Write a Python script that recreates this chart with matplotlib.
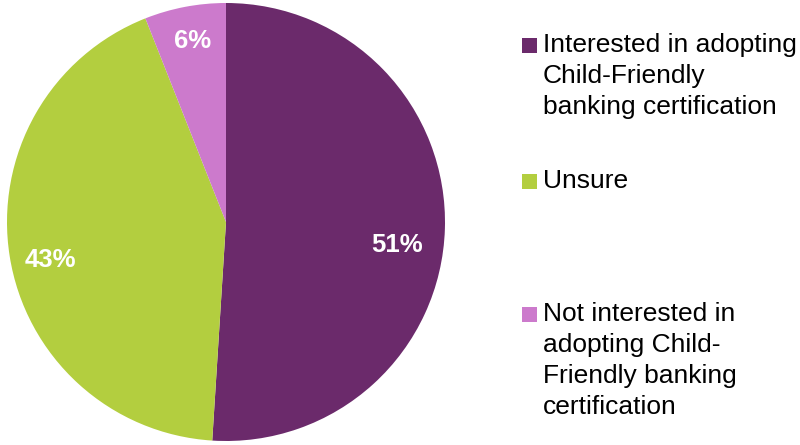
import matplotlib
matplotlib.use("Agg")
import matplotlib.pyplot as plt
from matplotlib.patches import Rectangle

plt.rcParams['font.family'] = ['Liberation Sans', 'DejaVu Sans']

categories = [
    "Interested in adopting\nChild-Friendly\nbanking certification",
    "Unsure",
    "Not interested in\nadopting Child-\nFriendly banking\ncertification",
]
values = [51, 43, 6]
colors = ["#6B2A6B", "#B3CE3F", "#CC7ACC"]

fig = plt.figure(figsize=(8, 4.45), dpi=100)
ax = fig.add_axes([7 / 800, 4 / 445, 438 / 800, 438 / 445])

wedges, texts, autotexts = ax.pie(
    values, colors=colors, startangle=90, counterclock=False,
    autopct=lambda p: f"{p:.0f}%", pctdistance=0.81,
    wedgeprops=dict(linewidth=0),
    textprops=dict(color="white", fontsize=18.5, fontweight="bold"),
)
# nudge the percentage labels a little inside their slices
label_nudge = [(-0.03, -0.08), (0.0, -0.045), (0.0, 0.03)]
for t, (dx, dy) in zip(autotexts, label_nudge):
    x, y = t.get_position()
    t.set_position((x + dx, y + dy))

ax.set_xlim(-1, 1)
ax.set_ylim(-1, 1)
ax.set_aspect("equal")

# legend drawn by hand: colour square + wrapped label
legend_rows = [45, 181, 314]
for cat, col, yc in zip(categories, colors, legend_rows):
    fig.patches.append(Rectangle((522 / 800, 1 - (yc + 7.5) / 445), 15 / 800, 15 / 445,
                                 transform=fig.transFigure, facecolor=col,
                                 edgecolor="none"))
    fig.text(543 / 800, 1 - (yc - 12) / 445, cat, fontsize=19, color="black",
             va="top", ha="left", linespacing=1.36)

fig.savefig("out.png", dpi=100)
